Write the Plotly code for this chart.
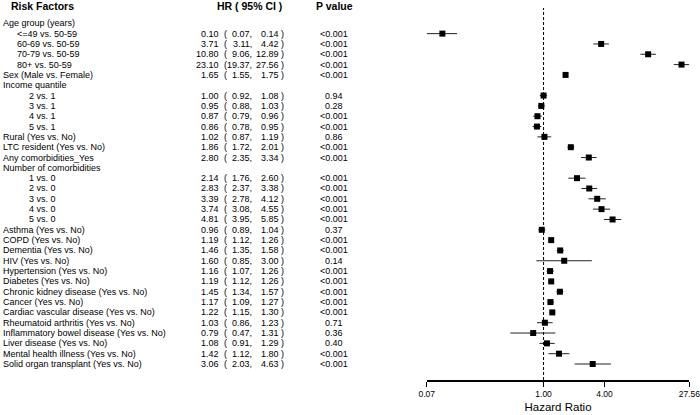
"""forest plot of hazard ratios by risk factor"""

import numpy as np
import plotly.graph_objects as go

# row labels, indent level (0 = group/standalone, 1 = age sub-row, 2 = other sub-rows)
labels = [
    "Age group (years)", "<=49 vs. 50-59", "60-69 vs. 50-59", "70-79 vs. 50-59",
    "80+ vs. 50-59", "Sex (Male vs. Female)", "Income quantile", "2 vs. 1",
    "3 vs. 1", "4 vs. 1", "5 vs. 1", "Rural (Yes vs. No)", "LTC resident (Yes vs. No)",
    "Any comorbidities_Yes", "Number of comorbidities", "1 vs. 0", "2 vs. 0",
    "3 vs. 0", "4 vs. 0", "5 vs. 0", "Asthma (Yes vs. No)", "COPD (Yes vs. No)",
    "Dementia (Yes vs. No)", "HIV (Yes vs. No)", "Hypertension (Yes vs. No)",
    "Diabetes (Yes vs. No)", "Chronic kidney disease (Yes vs. No)",
    "Cancer (Yes vs. No)", "Cardiac vascular disease (Yes vs. No)",
    "Rheumatoid arthritis (Yes vs. No)", "Inflammatory bowel disease (Yes vs. No)",
    "Liver disease (Yes vs. No)", "Mental health illness (Yes vs. No)",
    "Solid organ transplant (Yes vs. No)",
]
indent = [0, 1, 1, 1, 1, 0, 0, 2, 2, 2, 2, 0, 0, 0, 0, 2, 2, 2, 2, 2,
          0, 0, 0, 0, 0, 0, 0, 0, 0, 0, 0, 0, 0, 0]

hr = [None, 0.10, 3.71, 10.80, 23.10, 1.65, None, 1.00, 0.95, 0.87, 0.86, 1.02,
      1.86, 2.80, None, 2.14, 2.83, 3.39, 3.74, 4.81, 0.96, 1.19, 1.46, 1.60,
      1.16, 1.19, 1.45, 1.17, 1.22, 1.03, 0.79, 1.08, 1.42, 3.06]
ci_low = [None, 0.07, 3.11, 9.06, 19.37, 1.55, None, 0.92, 0.88, 0.79, 0.78, 0.87,
          1.72, 2.35, None, 1.76, 2.37, 2.78, 3.08, 3.95, 0.89, 1.12, 1.35, 0.85,
          1.07, 1.12, 1.34, 1.09, 1.15, 0.86, 0.47, 0.91, 1.12, 2.03]
ci_high = [None, 0.14, 4.42, 12.89, 27.56, 1.75, None, 1.08, 1.03, 0.96, 0.95, 1.19,
           2.01, 3.34, None, 2.60, 3.38, 4.12, 4.55, 5.85, 1.04, 1.26, 1.58, 3.00,
           1.26, 1.26, 1.57, 1.27, 1.30, 1.23, 1.31, 1.29, 1.80, 4.63]
p_values = [None, "<0.001", "<0.001", "<0.001", "<0.001", "<0.001", None, "0.94",
            "0.28", "<0.001", "<0.001", "0.86", "<0.001", "<0.001", None, "<0.001",
            "<0.001", "<0.001", "<0.001", "<0.001", "0.37", "<0.001", "<0.001",
            "0.14", "<0.001", "<0.001", "<0.001", "<0.001", "<0.001", "0.71", "0.36",
            "0.40", "<0.001", "<0.001"]

x_ticks = [0.07, 1.00, 4.00, 27.56]

FONT = "Liberation Sans, Arial, sans-serif"
WIDTH, HEIGHT = 700, 415


def px(x):
    """pixel x -> paper x"""
    return x / WIDTH


def esc(text):
    """escape for plotly text"""
    return text.replace("<", "&lt;")


def main():
    """main"""
    rows = list(range(1, len(labels) + 1))
    est = np.array([np.nan if v is None else v for v in hr])
    low = np.array([np.nan if v is None else v for v in ci_low])
    high = np.array([np.nan if v is None else v for v in ci_high])

    fig = go.Figure()
    fig.add_trace(go.Scatter(
        x=est, y=rows, mode="markers",
        marker=dict(symbol="square", size=6, color="black"),
        error_x=dict(type="data", symmetric=False, array=high - est,
                     arrayminus=est - low, width=0, thickness=1, color="#222"),
        cliponaxis=False, hoverinfo="skip", showlegend=False))

    # reference line at HR = 1
    fig.add_shape(type="line", xref="x", yref="paper", x0=1, x1=1, y0=0,
                  y1=1 - 8 / 380, line=dict(color="black", width=1, dash="3px,2px"))

    txt = dict(size=9, color="black", family=FONT)
    indent_px = {0: 1, 1: 15, 2: 27}
    for i, row in enumerate(rows):
        fig.add_annotation(x=px(indent_px[indent[i]]), y=row, xref="paper", yref="y",
                           text=esc(labels[i]), xanchor="left", showarrow=False, font=txt)
        if hr[i] is None:
            continue
        fig.add_annotation(x=px(220.5), y=row, xref="paper", yref="y",
                           text=f"{hr[i]:.2f}", xanchor="right", showarrow=False, font=txt)
        fig.add_annotation(x=px(222), y=row, xref="paper", yref="y",
                           text="(", xanchor="left", showarrow=False, font=txt)
        fig.add_annotation(x=px(254), y=row, xref="paper", yref="y",
                           text=f"{ci_low[i]:.2f},", xanchor="right", showarrow=False, font=txt)
        fig.add_annotation(x=px(286), y=row, xref="paper", yref="y",
                           text=f"{ci_high[i]:.2f} )", xanchor="right", showarrow=False,
                           font=txt)
        fig.add_annotation(x=px(334), y=row, xref="paper", yref="y",
                           text=esc(p_values[i]), xanchor="center", showarrow=False,
                           font=txt)

    head = dict(size=10.5, color="black", family=FONT)
    for x, text in [(42, "Risk Factors"), (249, "HR ( 95% CI )"), (334, "P value")]:
        fig.add_annotation(x=px(x), y=1 - 6 / 380, xref="paper", yref="paper",
                           text=f"<b>{text}</b>", xanchor="center", yanchor="middle",
                           showarrow=False, font=head)

    fig.update_xaxes(
        type="log", range=[np.log10(0.07) - 1e-4, np.log10(27.56) + 1e-4],
        domain=[px(426.7), px(689.3)],
        tickvals=x_ticks, ticktext=[f"{v:.2f}" for v in x_ticks],
        ticks="outside", ticklen=5, tickwidth=1, tickcolor="black",
        ticklabeloverflow="allow",
        showline=True, linecolor="black", linewidth=1.5,
        showgrid=False, zeroline=False, automargin=False,
        tickfont=dict(size=8.5, color="black", family=FONT),
        title=dict(text="Hazard Ratio", standoff=5,
                   font=dict(size=11.5, color="black", family=FONT)))
    fig.update_yaxes(range=[35.549, -1.257], visible=False, showgrid=False)

    fig.update_layout(
        width=WIDTH, height=HEIGHT, plot_bgcolor="white", paper_bgcolor="white",
        margin=dict(l=0, r=0, t=0, b=35, pad=0), font=dict(family=FONT))

    # drop the default 8px page margin so the figure fills the window
    fig.write_html("out.html", config={"displayModeBar": False},
                   post_script="document.body.style.margin = '0';")


if __name__ == "__main__":
    main()
